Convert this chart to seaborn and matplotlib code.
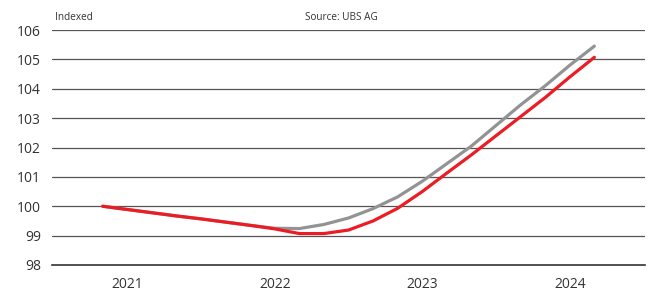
import matplotlib
matplotlib.use("Agg")
import matplotlib.pyplot as plt
import seaborn as sns
import pandas as pd

# Time positions (fractional years, every two months Nov 2020 - Mar 2024)
months = ["2020-11", "2021-01", "2021-03", "2021-05", "2021-07", "2021-09", "2021-11",
          "2022-01", "2022-03", "2022-05", "2022-07", "2022-09", "2022-11",
          "2023-01", "2023-03", "2023-05", "2023-07", "2023-09", "2023-11",
          "2024-01", "2024-03"]
red_values = [100.0, 99.89, 99.78, 99.67, 99.57, 99.46, 99.35,
              99.23, 99.07, 99.07, 99.19, 99.5, 99.93,
              100.5, 101.13, 101.75, 102.4, 103.05, 103.7,
              104.4, 105.07]
gray_values = [100.0, 99.89, 99.78, 99.67, 99.57, 99.46, 99.35,
               99.25, 99.24, 99.38, 99.6, 99.92, 100.32,
               100.85, 101.45, 102.05, 102.75, 103.45, 104.1,
               104.8, 105.45]
year_ticks = [2021, 2022, 2023, 2024]
y_ticks = [98, 99, 100, 101, 102, 103, 104, 105, 106]

def to_year(m):
    y, mo = m.split("-")
    return int(y) + (int(mo) - 1) / 12

x = [to_year(m) for m in months]
df = pd.concat([
    pd.DataFrame({"x": x, "value": gray_values, "series": "gray"}),
    pd.DataFrame({"x": x, "value": red_values, "series": "red"}),
])

sns.set_theme(style="white")
plt.rcParams["font.family"] = ["Open Sans", "DejaVu Sans"]

fig = plt.figure(figsize=(6.49, 2.91), dpi=100)
ax = fig.add_axes([52 / 649, 1 - 265 / 291, (645 - 52) / 649, (265 - 30) / 291])

for yv in y_ticks[1:]:
    ax.axhline(yv, color="#555555", lw=0.9, zorder=1)

sns.lineplot(data=df, x="x", y="value", hue="series",
             palette={"gray": "#939393", "red": "#ec1c24"},
             lw=2.3, legend=False, ax=ax, zorder=3, sort=False)

ax.set_xlim(2020.49, 2024.51)
ax.set_ylim(98, 106)
ax.set_xticks(year_ticks)
ax.set_xticklabels([str(v) for v in year_ticks])
ax.set_yticks(y_ticks)
ax.set_yticklabels([str(v) for v in y_ticks])
ax.set_xlabel("")
ax.set_ylabel("")
for s in ["top", "right", "left"]:
    ax.spines[s].set_visible(False)
ax.spines["bottom"].set_color("#333333")
ax.spines["bottom"].set_linewidth(1.2)
ax.tick_params(axis="both", length=0, labelsize=10, labelcolor="#333333")
ax.tick_params(axis="y", pad=8)
ax.tick_params(axis="x", pad=9)

fig.text(55 / 649, 1 - 17 / 291, "Indexed", fontsize=7.2, color="#333333",
         ha="left", va="center")
fig.text(305 / 649, 1 - 17 / 291, "Source: UBS AG", fontsize=7.2, color="#333333",
         ha="left", va="center")

fig.savefig("out.png", dpi=100)
